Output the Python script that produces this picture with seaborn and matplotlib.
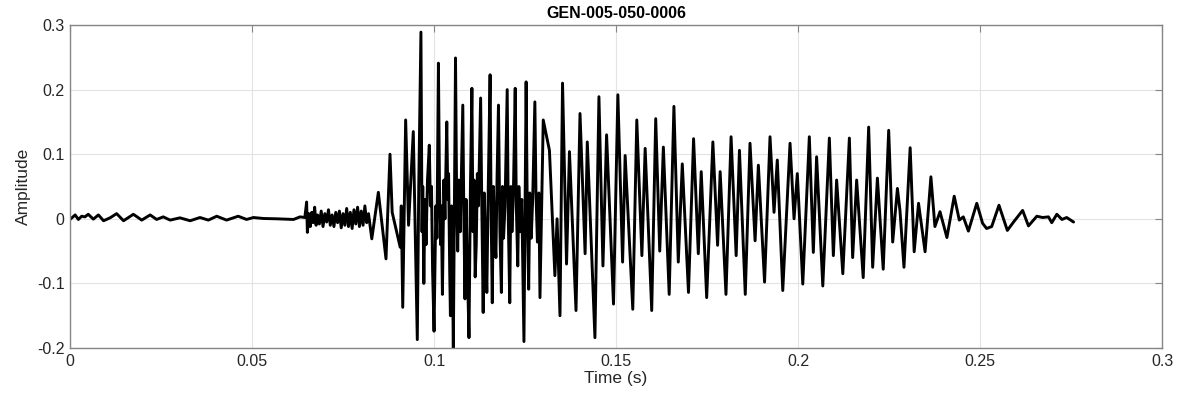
import numpy as np
import pandas as pd
import matplotlib
matplotlib.use("Agg")
import matplotlib.pyplot as plt
import seaborn as sns

# values (time in s, amplitude), split by segment
t_quiet = [0.0, 0.0014, 0.0023, 0.0032, 0.0041, 0.0050, 0.0064, 0.0078, 0.0092, 0.0110,
           0.0128, 0.0147, 0.0174, 0.0197, 0.0220, 0.0238, 0.0256, 0.0275, 0.0302, 0.0330,
           0.0357, 0.0380, 0.0403, 0.0430, 0.0462, 0.0485, 0.0504, 0.0531, 0.0568, 0.0614,
           0.0632, 0.0645]
a_quiet = [-0.001, 0.006, -0.001, 0.004, 0.003, 0.007, -0.0005, 0.006, -0.003, 0.0015,
           0.008, -0.003, 0.007, -0.002, 0.006, -0.001, 0.003, -0.002, 0.0015, -0.003,
           0.002, -0.002, 0.004, -0.002, 0.004, -0.001, 0.002, 0.0005, 0.0, -0.001,
           0.003, 0.002]

t_onset = [0.0650, 0.0652, 0.0656, 0.0660, 0.0664, 0.0668, 0.0672, 0.0676, 0.0680, 0.0685,
           0.0690, 0.0695, 0.0700, 0.0705, 0.0710, 0.0715, 0.0720, 0.0725, 0.0730, 0.0735,
           0.0740, 0.0745, 0.0750, 0.0755, 0.0760, 0.0765, 0.0770, 0.0775, 0.0780, 0.0785,
           0.0790, 0.0795, 0.0800, 0.0805, 0.0810, 0.0815, 0.0820]
a_onset = [0.026, -0.021, 0.008, -0.012, 0.010, -0.006, 0.018, -0.010, 0.006, -0.008,
           0.012, -0.012, 0.008, -0.005, 0.014, -0.010, 0.006, -0.012, 0.010, -0.006,
           0.012, -0.014, 0.008, -0.010, 0.016, -0.012, 0.010, -0.015, 0.014, -0.008,
           0.018, -0.012, 0.012, -0.010, 0.020, -0.006, 0.008]

t_rise = [0.0829, 0.0847, 0.0868, 0.0879, 0.0885, 0.0907, 0.0910, 0.0914, 0.0922, 0.0930,
          0.0943, 0.0954, 0.0958]
a_rise = [-0.031, 0.041, -0.062, 0.100, 0.010, -0.044, 0.020, -0.137, 0.153, -0.010,
          0.135, -0.187, 0.050]

t_burst = [0.0964, 0.0967, 0.0969, 0.0972, 0.0975, 0.0978, 0.0982, 0.0987, 0.0990, 0.0993,
           0.0996, 0.1000, 0.1005, 0.1008, 0.1012, 0.1015, 0.1018, 0.1020, 0.1023, 0.1027,
           0.1030, 0.1035, 0.1038, 0.1040, 0.1043, 0.1045, 0.1048, 0.1050, 0.1053, 0.1059,
           0.1062, 0.1065, 0.1068, 0.1072, 0.1079, 0.1082, 0.1085, 0.1088, 0.1091, 0.1096,
           0.1100, 0.1104, 0.1107, 0.1110, 0.1113, 0.1116, 0.1119, 0.1122, 0.1128, 0.1131,
           0.1135, 0.1138, 0.1141, 0.1145, 0.1149, 0.1154, 0.1157, 0.1160, 0.1163, 0.1166,
           0.1170, 0.1173, 0.1177, 0.1181, 0.1185, 0.1188, 0.1191, 0.1195, 0.1201, 0.1204,
           0.1208, 0.1211, 0.1214, 0.1218, 0.1223, 0.1226, 0.1230, 0.1233, 0.1237, 0.1241,
           0.1247, 0.1253, 0.1256, 0.1260, 0.1263, 0.1267, 0.1271, 0.1277, 0.1280, 0.1284,
           0.1288, 0.1291]
a_burst = [0.289, -0.020, 0.050, -0.100, 0.030, -0.040, 0.060, 0.114, 0.020, 0.050,
           -0.080, -0.174, 0.020, -0.030, 0.241, 0.050, -0.040, 0.020, -0.117, 0.060,
           0.0, 0.150, 0.030, 0.070, -0.080, -0.150, 0.020, -0.050, -0.200, 0.249,
           0.040, -0.050, 0.060, -0.020, 0.176, 0.0, -0.124, 0.030, -0.060, -0.184,
           0.050, 0.202, -0.020, 0.060, -0.090, -0.040, 0.070, 0.020, 0.187, 0.030,
           -0.145, 0.040, -0.030, -0.114, 0.050, 0.223, 0.0, -0.130, 0.050, -0.020,
           -0.060, 0.060, 0.176, -0.020, -0.114, 0.050, -0.030, 0.020, 0.200, 0.0,
           -0.130, 0.050, -0.020, 0.040, 0.202, 0.020, -0.073, 0.050, -0.020, 0.030,
           -0.190, 0.212, 0.020, -0.109, 0.040, -0.030, 0.030, 0.181, 0.040, -0.036,
           0.040, -0.122]

t_voiced = [0.1300, 0.1317, 0.1332, 0.1338, 0.1346, 0.1353, 0.1364, 0.1372, 0.1390, 0.1401,
            0.1415, 0.1421, 0.1442, 0.1453, 0.1464, 0.1474, 0.1493, 0.1505, 0.1518, 0.1525,
            0.1546, 0.1557, 0.1571, 0.1580, 0.1598, 0.1609, 0.1620, 0.1630, 0.1646, 0.1659,
            0.1671, 0.1682, 0.1699, 0.1713, 0.1726, 0.1734, 0.1749, 0.1766, 0.1779, 0.1786,
            0.1802, 0.1816, 0.1830, 0.1839, 0.1855, 0.1868, 0.1882, 0.1891, 0.1908, 0.1923,
            0.1934, 0.1943, 0.1958, 0.1978, 0.1989, 0.1998, 0.2013, 0.2031, 0.2042, 0.2051,
            0.2068, 0.2086, 0.2097, 0.2106, 0.2123, 0.2141, 0.2150, 0.2161, 0.2179, 0.2194,
            0.2205, 0.2218, 0.2234, 0.2249, 0.2260, 0.2273]
a_voiced = [0.153, 0.106, -0.088, 0.0, -0.150, 0.210, -0.070, 0.104, -0.142, 0.163,
            -0.054, 0.119, -0.184, 0.189, -0.073, 0.130, -0.132, 0.192, -0.067, 0.098,
            -0.140, 0.153, -0.057, 0.109, -0.142, 0.155, -0.050, 0.111, -0.117, 0.174,
            -0.067, 0.085, -0.114, 0.124, -0.054, 0.073, -0.122, 0.119, -0.041, 0.073,
            -0.117, 0.127, -0.057, 0.106, -0.117, 0.117, -0.034, 0.083, -0.098, 0.127,
            0.010, 0.091, -0.111, 0.117, 0.0, 0.070, -0.101, 0.127, -0.052, 0.096,
            -0.104, 0.125, -0.057, 0.060, -0.085, 0.125, -0.060, 0.060, -0.091, 0.142,
            -0.075, 0.063, -0.078, 0.137, -0.036, 0.047]

t_decay = [0.2280, 0.2291, 0.2308, 0.2319, 0.2331, 0.2349, 0.2365, 0.2376, 0.2390, 0.2409,
           0.2429, 0.2443, 0.2454, 0.2468, 0.2491, 0.2507, 0.2518, 0.2532, 0.2552, 0.2575,
           0.2592, 0.2617, 0.2633, 0.2656, 0.2672, 0.2688, 0.2697, 0.2711, 0.2725, 0.2738,
           0.2757]
a_decay = [0.013, -0.075, 0.110, -0.051, 0.024, -0.051, 0.065, -0.012, 0.011, -0.029,
           0.035, -0.002, 0.003, -0.019, 0.024, -0.007, -0.015, -0.012, 0.021, -0.018,
           -0.005, 0.013, -0.011, 0.004, 0.002, 0.003, -0.006, 0.007, -0.001, 0.002,
           -0.005]

x_ticks = [0, 0.05, 0.1, 0.15, 0.2, 0.25, 0.3]
x_labels = ["0", "0.05", "0.1", "0.15", "0.2", "0.25", "0.3"]
y_ticks = [-0.2, -0.1, 0, 0.1, 0.2, 0.3]
y_labels = ["-0.2", "-0.1", "0", "0.1", "0.2", "0.3"]

df = pd.DataFrame({
    "time": t_quiet + t_onset + t_rise + t_burst + t_voiced + t_decay,
    "amp": a_quiet + a_onset + a_rise + a_burst + a_voiced + a_decay,
})

sns.set_style("white")
plt.rcParams["font.family"] = ["Liberation Sans", "DejaVu Sans"]

fig = plt.figure(figsize=(11.77, 4.04), dpi=100)
ax = fig.add_axes([0.0595, 0.1386, 0.9278, 0.7995])

sns.lineplot(data=df, x="time", y="amp", ax=ax, color="black", linewidth=2.1,
             estimator=None, sort=False)
ax.lines[0].set_solid_joinstyle("round")

ax.set_xlim(0, 0.3)
ax.set_ylim(-0.2, 0.3)
ax.set_xticks(x_ticks)
ax.set_xticklabels(x_labels)
ax.set_yticks(y_ticks)
ax.set_yticklabels(y_labels)
ax.grid(True, color="#e3e3e3", linewidth=0.8)
ax.set_axisbelow(True)

for sp in ax.spines.values():
    sp.set_color("#868686")
    sp.set_linewidth(1.0)
ax.tick_params(direction="in", length=5, color="#868686", labelsize=11.5,
               labelcolor="#262626", top=True, right=True, pad=4)

ax.set_xlabel("Time (s)", fontsize=12.5, color="#262626", labelpad=2)
ax.set_ylabel("Amplitude", fontsize=12.5, color="#262626", labelpad=4)
ax.set_title("GEN-005-050-0006", fontsize=11.5, fontweight="bold", color="black", pad=5)

fig.savefig("out.png", dpi=100)
